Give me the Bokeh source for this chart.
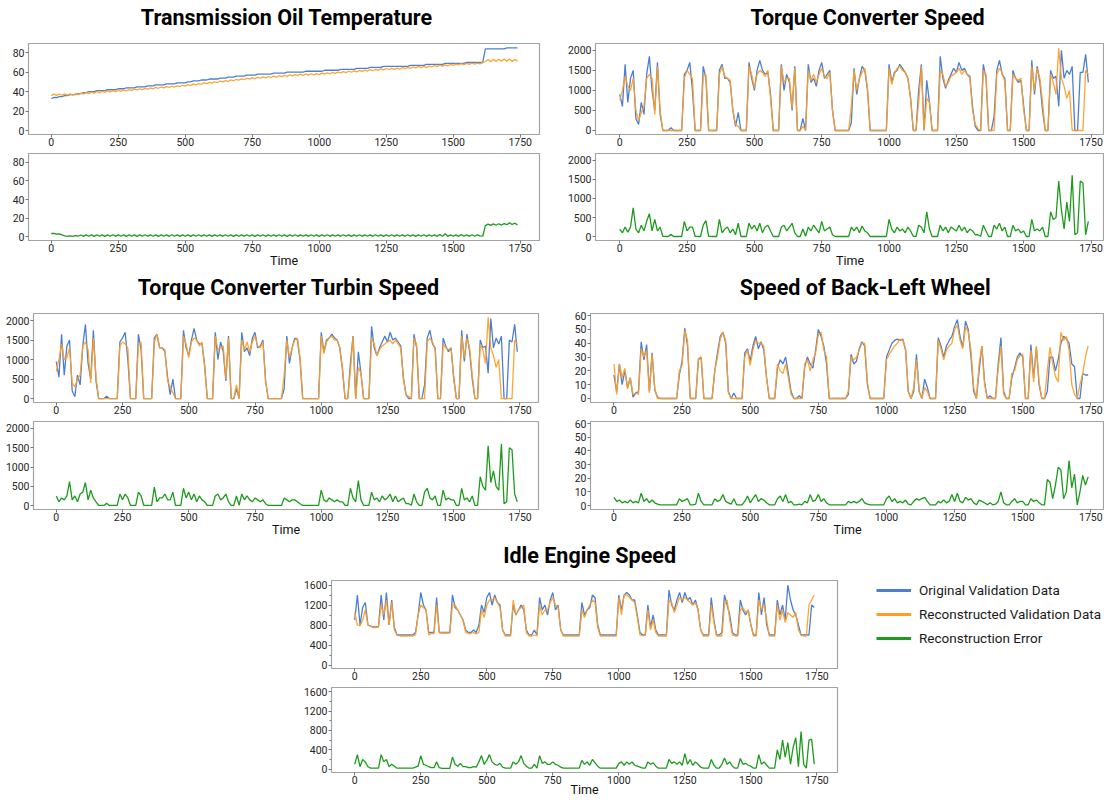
from bokeh.plotting import figure
from bokeh.models import Range1d, FixedTicker, Legend, LegendItem, Spacer
from bokeh.layouts import column, row
from bokeh.embed import file_html
from bokeh.resources import INLINE
from bokeh.core.properties import value

TIME = list(range(0, 1750, 10))
X_TICKS = [0, 250, 500, 750, 1000, 1250, 1500, 1750]

OIL_ORIG = [33, 34, 34, 35, 35, 36, 36, 37, 37, 37,
            38, 38, 39, 39, 40, 40, 40, 41, 41, 41,
            41, 42, 42, 42, 42, 43, 43, 43, 44, 44,
            44, 44, 45, 45, 45, 45, 46, 46, 46, 47,
            47, 47, 47, 48, 48, 48, 48, 49, 49, 49,
            49, 50, 50, 51, 51, 51, 52, 52, 52, 53,
            53, 53, 53, 54, 54, 54, 55, 55, 55, 56,
            56, 56, 56, 57, 57, 57, 57, 58, 58, 58,
            58, 58, 58, 59, 59, 59, 59, 59, 60, 60,
            60, 60, 60, 60, 60, 61, 61, 61, 61, 61,
            61, 61, 62, 62, 62, 62, 62, 62, 63, 63,
            63, 63, 63, 63, 64, 64, 64, 64, 64, 65,
            65, 65, 65, 65, 66, 66, 66, 66, 66, 66,
            66, 66, 66, 66, 67, 67, 67, 67, 67, 67,
            68, 68, 68, 68, 68, 68, 68, 69, 69, 69,
            69, 69, 69, 69, 69, 70, 70, 70, 70, 70,
            70, 70, 84, 84, 84, 84, 84, 84, 84, 84,
            85, 85, 85, 85, 85]
OIL_RECON = [36.0, 37.5, 36.2, 37.6, 36.3, 37.7, 36.4, 37.8, 36.5, 37.8,
             37.0, 38.4, 37.5, 39.0, 38.0, 39.5, 38.5, 40.0, 39.0, 40.2,
             39.3, 40.6, 39.7, 41.0, 40.0, 41.4, 40.4, 41.8, 40.8, 42.2,
             41.3, 42.6, 41.8, 43.0, 42.2, 43.4, 42.6, 43.8, 43.0, 44.4,
             43.5, 44.8, 44.0, 45.2, 44.4, 45.6, 44.8, 46.0, 45.3, 46.6,
             45.8, 47.2, 46.4, 47.8, 47.0, 48.4, 47.6, 49.0, 48.2, 49.6,
             48.8, 50.2, 49.4, 50.8, 50.0, 51.4, 50.6, 52.0, 51.2, 52.6,
             51.8, 53.2, 52.4, 53.8, 53.0, 54.4, 53.4, 54.8, 53.8, 55.2,
             54.2, 55.6, 54.6, 56.0, 55.0, 56.4, 55.4, 56.8, 55.8, 57.2,
             56.2, 57.6, 56.6, 58.0, 56.8, 58.2, 57.0, 58.4, 57.2, 58.6,
             57.6, 59.0, 58.0, 59.4, 58.4, 59.8, 58.8, 60.2, 59.2, 60.6,
             59.6, 61.0, 60.0, 61.4, 60.4, 61.8, 60.8, 62.2, 61.2, 62.6,
             61.6, 63.0, 62.0, 63.4, 62.4, 63.8, 62.8, 64.0, 63.0, 64.2,
             63.2, 64.6, 63.6, 65.0, 64.0, 65.4, 64.4, 65.8, 64.8, 66.0,
             65.0, 66.4, 65.4, 66.8, 65.8, 67.2, 66.2, 67.6, 66.6, 68.0,
             67.0, 68.4, 67.4, 68.8, 67.8, 69.0, 68.0, 69.2, 68.2, 69.4,
             68.6, 70.0, 71.0, 73.0, 70.8, 73.2, 71.0, 73.4, 71.2, 73.5,
             71.2, 73.6, 71.0, 73.2, 71.4]
OIL_ERR = [3.5, 3.6, 2.8, 3.2, 2.0, 1.0, 0.5, 0.9, 0.4, 1.2,
           0.6, 1.9, 0.5, 2.0, 0.6, 2.1, 0.5, 2.0, 0.6, 2.1,
           0.5, 2.0, 0.6, 2.2, 0.5, 2.0, 0.6, 2.1, 0.5, 2.0,
           0.6, 2.1, 0.5, 2.0, 0.6, 2.2, 0.5, 2.0, 0.6, 2.1,
           0.5, 2.0, 0.6, 2.1, 0.5, 2.2, 0.6, 2.0, 0.5, 2.1,
           0.6, 2.0, 0.5, 2.1, 0.6, 2.2, 0.5, 2.0, 0.6, 2.1,
           0.5, 2.0, 0.6, 2.1, 0.5, 2.2, 0.6, 2.0, 0.5, 2.1,
           0.6, 2.0, 0.5, 2.2, 0.6, 2.1, 0.5, 2.0, 0.6, 2.2,
           0.5, 2.1, 0.6, 2.0, 0.5, 2.2, 0.6, 2.1, 0.5, 2.0,
           0.6, 2.2, 0.5, 2.1, 0.6, 2.0, 0.5, 2.2, 0.6, 2.1,
           0.5, 2.0, 0.6, 2.2, 0.5, 2.1, 0.6, 2.0, 0.5, 2.2,
           0.6, 2.1, 0.5, 2.0, 0.6, 2.2, 0.5, 2.1, 0.6, 2.0,
           0.5, 2.2, 0.6, 2.1, 0.5, 2.0, 0.6, 2.2, 0.5, 2.1,
           0.6, 2.0, 0.5, 2.2, 0.6, 2.1, 0.5, 2.0, 0.6, 2.2,
           0.5, 2.1, 0.6, 2.0, 0.5, 2.3, 0.6, 3.2, 0.5, 2.1,
           0.6, 2.1, 0.5, 2.3, 0.6, 2.0, 0.5, 2.2, 0.6, 2.0,
           1.0, 0.6, 12.0, 13.6, 12.2, 13.8, 12.4, 14.0, 12.6, 14.2,
           13.0, 14.9, 13.2, 14.6, 12.8]

TC_ORIG = [900, 600, 1650, 700, 1300, 1500, 300, 150, 700, 400,
           1400, 1850, 1000, 500, 1700, 400, 0, 0, 0, 70,
           0, 0, 0, 0, 1400, 1500, 1700, 1000, 0, 0,
           0, 1600, 1300, 0, 0, 0, 0, 1500, 1650, 1300,
           1300, 1200, 500, 100, 450, 0, 0, 0, 1700, 1300,
           1000, 1500, 1750, 1500, 1400, 1450, 900, 0, 0, 0,
           1650, 1000, 1400, 1200, 500, 1600, 0, 0, 300, 0,
           1650, 1200, 1300, 1100, 1500, 1700, 1300, 1400, 1500, 500,
           0, 0, 0, 0, 0, 0, 200, 1550, 900, 1300,
           1600, 1500, 1000, 0, 0, 0, 0, 0, 0, 0,
           1650, 1200, 1450, 1500, 1650, 1550, 1450, 1300, 800, 0,
           0, 1000, 1650, 0, 1250, 700, 0, 0, 0, 1850,
           1300, 1050, 1250, 1400, 1550, 1450, 1700, 1500, 1550, 1400,
           1350, 600, 100, 0, 0, 1650, 1300, 0, 0, 350,
           1500, 1750, 1400, 1300, 0, 0, 1500, 1300, 1200, 1250,
           600, 0, 0, 1750, 900, 1600, 1200, 500, 0, 0,
           1500, 1300, 1350, 600, 2000, 1300, 1500, 1400, 1600, 0,
           0, 1450, 1450, 1900, 1200]
TC_RECON = [750, 1000, 1350, 1100, 1000, 1300, 500, 250, 450, 600,
            1300, 1400, 1300, 400, 1600, 500, 0, 0, 0, 0,
            0, 0, 0, 0, 1300, 1500, 1400, 1300, 0, 0,
            0, 1350, 1400, 0, 0, 0, 0, 1400, 1600, 1350,
            1300, 1250, 500, 150, 100, 0, 0, 0, 1600, 1400,
            1050, 1400, 1500, 1450, 1350, 1500, 800, 0, 0, 0,
            1600, 1200, 1300, 1300, 550, 1550, 0, 0, 100, 0,
            1500, 1250, 1400, 1200, 1400, 1550, 1350, 1300, 1450, 500,
            0, 0, 0, 0, 0, 0, 600, 1500, 1000, 1300,
            1450, 1550, 1050, 0, 0, 0, 0, 0, 0, 0,
            1550, 1150, 1400, 1550, 1600, 1500, 1450, 1300, 800, 0,
            0, 700, 1600, 0, 800, 700, 0, 0, 0, 1500,
            1400, 1100, 1200, 1350, 1400, 1450, 1550, 1400, 1500, 1400,
            1300, 500, 150, 50, 0, 1500, 1400, 0, 0, 0,
            1400, 1550, 1450, 1200, 0, 0, 1400, 1300, 1250, 1300,
            500, 0, 0, 1600, 1000, 1550, 1300, 700, 0, 0,
            1400, 1200, 900, 2050, 1300, 1100, 800, 1000, 0, 0,
            0, 0, 0, 1500, 1400]
TC_ERR = [200, 100, 250, 120, 250, 750, 200, 100, 300, 150,
          400, 600, 150, 450, 150, 250, 10, 5, 5, 60,
          5, 5, 5, 5, 400, 150, 250, 250, 10, 5,
          5, 300, 420, 10, 5, 5, 5, 450, 100, 200,
          250, 100, 200, 50, 350, 5, 5, 5, 350, 200,
          300, 150, 350, 100, 250, 300, 150, 5, 5, 5,
          250, 300, 150, 250, 350, 100, 5, 5, 200, 10,
          250, 150, 300, 200, 100, 400, 150, 200, 250, 50,
          5, 5, 5, 5, 5, 5, 250, 150, 250, 100,
          280, 150, 100, 5, 5, 5, 5, 5, 5, 5,
          450, 200, 100, 250, 150, 200, 100, 250, 150, 10,
          5, 300, 250, 100, 650, 200, 5, 5, 5, 300,
          150, 250, 100, 250, 200, 150, 300, 150, 250, 100,
          200, 150, 50, 50, 10, 300, 150, 5, 5, 300,
          200, 350, 150, 250, 5, 5, 300, 150, 200, 100,
          150, 5, 5, 450, 150, 200, 150, 250, 5, 5,
          650, 450, 500, 1450, 700, 200, 900, 400, 1600, 50,
          100, 1450, 1400, 50, 400]

TURB_ORIG = [950, 550, 1650, 600, 1350, 1500, 200, 50, 600, 350,
             1350, 1900, 900, 500, 1750, 450, 0, 0, 0, 60,
             0, 0, 0, 0, 1450, 1550, 1700, 1000, 0, 0,
             0, 1650, 1250, 0, 0, 0, 0, 1550, 1650, 1300,
             1300, 1200, 550, 100, 500, 0, 0, 0, 1750, 1300,
             1100, 1500, 1800, 1500, 1400, 1400, 850, 0, 0, 0,
             1700, 1000, 1450, 1200, 450, 1600, 0, 0, 250, 0,
             1700, 1200, 1300, 1100, 1550, 1700, 1300, 1350, 1500, 450,
             0, 0, 0, 0, 0, 0, 250, 1600, 900, 1300,
             1550, 1500, 1000, 0, 0, 0, 0, 0, 0, 0,
             1700, 1200, 1500, 1550, 1650, 1550, 1500, 1300, 750, 0,
             0, 900, 1600, 0, 1200, 650, 0, 0, 0, 1850,
             1300, 1100, 1300, 1450, 1600, 1450, 1700, 1500, 1550, 1450,
             1350, 550, 100, 0, 0, 1650, 1300, 0, 0, 350,
             1550, 1750, 1400, 1300, 0, 0, 1550, 1350, 1200, 1300,
             550, 0, 0, 1750, 950, 1650, 1200, 500, 0, 0,
             1500, 1300, 1350, 650, 2050, 1300, 1550, 1400, 1600, 0,
             0, 1500, 1450, 1900, 1200]
TURB_RECON = [700, 1000, 1400, 1000, 1050, 1300, 400, 300, 500, 600,
              1350, 1450, 1250, 400, 1550, 550, 0, 0, 0, 0,
              0, 0, 0, 0, 1350, 1450, 1400, 1300, 0, 0,
              0, 1400, 1450, 0, 0, 0, 0, 1450, 1650, 1300,
              1300, 1250, 450, 300, 150, 0, 0, 0, 1600, 1400,
              1050, 1450, 1550, 1500, 1350, 1450, 800, 0, 0, 0,
              1600, 1250, 1300, 1350, 500, 1550, 0, 0, 350, 0,
              1500, 1250, 1450, 1200, 1450, 1600, 1350, 1300, 1450, 450,
              0, 0, 0, 0, 0, 0, 600, 1500, 1050, 1300,
              1500, 1550, 1050, 0, 0, 0, 0, 0, 0, 0,
              1600, 1150, 1450, 1550, 1600, 1500, 1500, 1300, 800, 0,
              0, 700, 1600, 0, 800, 650, 0, 0, 0, 1550,
              1400, 1100, 1250, 1350, 1400, 1450, 1500, 1400, 1500, 1400,
              1300, 500, 100, 50, 0, 1550, 1400, 0, 0, 0,
              1450, 1550, 1450, 1250, 0, 0, 1400, 1300, 1250, 1300,
              500, 0, 0, 1600, 1050, 1550, 1300, 600, 0, 0,
              1400, 1250, 900, 2080, 1300, 1100, 800, 1000, 0, 0,
              0, 0, 0, 1500, 1400]
TURB_ERR = [250, 100, 200, 150, 250, 620, 150, 250, 100, 300,
            350, 600, 150, 400, 200, 100, 10, 5, 5, 60,
            5, 5, 5, 5, 300, 150, 300, 200, 10, 5,
            5, 350, 250, 10, 5, 5, 5, 480, 100, 200,
            200, 300, 150, 150, 350, 5, 5, 5, 450, 200,
            350, 150, 300, 100, 250, 150, 100, 5, 5, 5,
            250, 300, 150, 200, 300, 100, 5, 5, 250, 10,
            300, 150, 250, 150, 100, 200, 150, 100, 150, 50,
            5, 5, 5, 5, 5, 5, 200, 150, 100, 150,
            150, 100, 50, 5, 5, 5, 5, 5, 5, 5,
            400, 150, 100, 200, 150, 100, 150, 100, 100, 10,
            5, 450, 200, 100, 650, 150, 5, 5, 5, 350,
            150, 200, 100, 250, 150, 200, 300, 100, 250, 100,
            150, 200, 50, 50, 10, 300, 100, 5, 5, 350,
            450, 200, 150, 250, 5, 5, 400, 150, 200, 150,
            150, 5, 5, 450, 150, 200, 100, 250, 5, 5,
            750, 500, 400, 1550, 600, 900, 500, 400, 1600, 50,
            100, 1500, 1450, 300, 100]

WHEEL_ORIG = [17, 5, 25, 10, 20, 8, 15, 1, 4, 5,
              41, 28, 39, 5, 33, 6, 1, 0, 0, 0,
              0, 0, 0, 0, 17, 27, 51, 38, 0, 0,
              0, 28, 30, 0, 0, 0, 0, 20, 33, 45,
              48, 40, 5, 0, 4, 0, 0, 0, 33, 36,
              27, 38, 45, 36, 41, 35, 15, 0, 0, 0,
              22, 28, 25, 30, 18, 5, 0, 0, 2, 0,
              23, 30, 25, 22, 35, 50, 45, 38, 25, 0,
              0, 0, 0, 0, 0, 0, 3, 32, 25, 27,
              36, 41, 38, 10, 0, 0, 0, 0, 0, 0,
              30, 35, 40, 42, 43, 42, 43, 35, 5, 0,
              5, 32, 5, 0, 14, 8, 0, 0, 0, 44,
              38, 30, 38, 42, 45, 52, 57, 45, 37, 56,
              50, 30, 5, 0, 20, 38, 12, 0, 2, 0,
              0, 25, 44, 5, 0, 0, 15, 22, 30, 33,
              30, 0, 0, 39, 15, 37, 10, 0, 0, 5,
              30, 30, 20, 28, 40, 45, 43, 40, 25, 23,
              0, 0, 18, 17, 17]
WHEEL_RECON = [25, 3, 25, 15, 22, 7, 15, 3, 4, 3,
               36, 30, 35, 4, 32, 7, 0, 0, 0, 0,
               0, 0, 0, 0, 20, 24, 49, 42, 0, 0,
               0, 29, 30, 0, 0, 0, 0, 20, 30, 43,
               48, 42, 4, 0, 0, 0, 0, 0, 30, 35,
               24, 35, 42, 40, 40, 38, 15, 0, 0, 0,
               25, 20, 18, 25, 15, 3, 0, 0, 0, 0,
               25, 28, 20, 28, 33, 46, 48, 35, 30, 0,
               0, 0, 0, 0, 0, 0, 5, 30, 28, 30,
               35, 40, 40, 12, 0, 0, 0, 0, 0, 0,
               28, 32, 35, 38, 40, 43, 42, 36, 5, 0,
               8, 28, 5, 0, 8, 5, 0, 0, 0, 42,
               36, 28, 35, 38, 40, 50, 53, 42, 36, 52,
               48, 35, 8, 0, 25, 38, 10, 0, 0, 0,
               0, 22, 38, 3, 0, 0, 18, 20, 28, 31,
               32, 0, 0, 35, 12, 38, 12, 0, 0, 20,
               37, 25, 16, 12, 48, 42, 45, 35, 10, 3,
               0, 10, 18, 30, 38]
WHEEL_ERR = [6, 3, 4, 2, 3, 2, 4, 2, 3, 2,
             9, 3, 5, 2, 4, 2, 1, 0.5, 0.5, 0.5,
             0.5, 0.5, 0.5, 0.5, 5, 3, 4, 5, 0.5, 0.5,
             1, 9, 3, 0.5, 0.5, 0.5, 0.5, 5, 3, 4,
             8, 3, 2, 1, 5, 0.5, 0.5, 0.5, 3, 7,
             2, 5, 8, 3, 5, 4, 2, 0.5, 0.5, 0.5,
             5, 7, 3, 8, 2, 3, 0.5, 0.5, 1, 0.5,
             3, 2, 8, 3, 4, 8, 3, 5, 2, 0.5,
             0.5, 0.5, 0.5, 0.5, 0.5, 0.5, 3, 2, 3, 2,
             3, 5, 2, 1, 0.5, 0.5, 0.5, 0.5, 0.5, 0.5,
             5, 7, 3, 5, 2, 3, 2, 4, 1, 0.5,
             3, 5, 4, 5, 6, 3, 0.5, 0.5, 0.5, 3,
             2, 4, 2, 3, 8, 3, 9, 3, 2, 6,
             4, 5, 2, 0.5, 4, 3, 2, 0.5, 2, 0.5,
             1, 3, 10, 2, 0.5, 0.5, 3, 5, 2, 3,
             3, 0.5, 0.5, 5, 3, 4, 2, 0.5, 0.5, 19,
             17, 5, 15, 28, 26, 5, 10, 33, 13, 23,
             0.5, 10, 22, 15, 21]

IDLE_ORIG = [900, 1400, 800, 1150, 1250, 800, 780, 760, 760, 770,
             1400, 900, 1450, 800, 1300, 750, 600, 600, 600, 600,
             600, 600, 600, 650, 1000, 1450, 1200, 1100, 650, 650,
             650, 1350, 650, 650, 650, 650, 650, 1400, 1150, 1100,
             1000, 900, 700, 650, 650, 700, 650, 800, 1200, 1050,
             1350, 1450, 1200, 1400, 1250, 1200, 700, 600, 600, 600,
             1200, 1000, 1100, 1200, 1100, 700, 600, 600, 700, 600,
             1350, 1100, 1200, 1000, 1300, 1450, 1100, 1200, 700, 600,
             600, 600, 600, 600, 600, 600, 1250, 1000, 1100, 1150,
             1400, 1350, 800, 600, 600, 600, 600, 600, 600, 600,
             1400, 1100, 1400, 1450, 1400, 1300, 1300, 1000, 650, 600,
             600, 1200, 750, 1000, 700, 600, 600, 600, 600, 1500,
             1200, 1100, 1300, 1450, 1250, 1450, 1300, 1350, 1200, 1300,
             1100, 700, 600, 600, 600, 1350, 900, 600, 600, 650,
             1400, 1200, 1000, 650, 600, 600, 1300, 1100, 1000, 1100,
             800, 600, 600, 1450, 1000, 1350, 800, 600, 600, 600,
             1300, 1000, 1200, 900, 1600, 1300, 1100, 1000, 800, 600,
             600, 600, 600, 1200, 1150]
IDLE_RECON = [1050, 800, 780, 900, 1100, 800, 770, 750, 750, 760,
              1200, 1000, 1300, 800, 1250, 700, 600, 580, 580, 580,
              580, 580, 580, 600, 1000, 1200, 1150, 1100, 600, 630,
              630, 1200, 650, 640, 640, 640, 640, 1200, 1200, 1100,
              1000, 900, 650, 630, 630, 650, 620, 650, 1100, 950,
              1200, 1300, 1300, 1350, 1250, 1150, 700, 580, 580, 580,
              1300, 1000, 1100, 1150, 1200, 650, 580, 580, 600, 580,
              1200, 1000, 1100, 1100, 1250, 1350, 1200, 1150, 700, 580,
              580, 580, 580, 580, 580, 580, 1100, 950, 1100, 1200,
              1300, 1250, 750, 580, 580, 580, 580, 580, 580, 580,
              1350, 1000, 1400, 1400, 1350, 1300, 1250, 950, 600, 580,
              600, 1100, 700, 900, 650, 580, 580, 580, 580, 1300,
              1250, 1050, 1200, 1350, 1300, 1350, 1300, 1250, 1200, 1250,
              1100, 700, 580, 580, 580, 1200, 850, 580, 580, 580,
              1200, 1300, 900, 600, 580, 580, 1100, 1150, 1050, 1100,
              800, 580, 580, 1300, 1100, 1200, 900, 580, 580, 580,
              1200, 900, 1100, 850, 1050, 1000, 950, 1050, 700, 600,
              580, 580, 1200, 1300, 1400]
IDLE_ERR = [100, 300, 50, 200, 150, 50, 20, 20, 20, 20,
            300, 150, 200, 50, 100, 60, 20, 20, 20, 20,
            20, 20, 20, 40, 60, 280, 100, 80, 50, 30,
            30, 150, 30, 15, 15, 15, 15, 250, 100, 60,
            120, 50, 50, 30, 30, 50, 40, 150, 280, 100,
            180, 300, 150, 100, 80, 120, 40, 20, 20, 20,
            150, 100, 150, 280, 120, 60, 20, 20, 100, 20,
            280, 120, 150, 100, 100, 150, 100, 80, 40, 20,
            20, 20, 20, 20, 20, 20, 180, 100, 150, 80,
            200, 130, 60, 20, 20, 20, 20, 20, 20, 20,
            120, 150, 80, 150, 100, 150, 80, 60, 40, 20,
            20, 150, 100, 130, 60, 20, 20, 20, 20, 200,
            120, 150, 100, 150, 80, 320, 100, 200, 80, 150,
            100, 40, 20, 20, 20, 200, 80, 20, 20, 100,
            230, 100, 150, 60, 20, 20, 220, 100, 120, 80,
            60, 20, 20, 300, 100, 150, 80, 20, 20, 20,
            400, 200, 600, 250, 550, 100, 450, 650, 50, 780,
            100, 20, 600, 620, 100]

TITLES = ["Transmission Oil Temperature", "Torque Converter Speed",
          "Torque Converter Turbin Speed", "Speed of Back-Left Wheel", "Idle Engine Speed"]
LEGEND_LABELS = ["Original Validation Data", "Reconstructed Validation Data", "Reconstruction Error"]
Y_RANGES = [(-4, 89.5), (-100, 2170), (-100, 2180), (-2.9, 61.5), (-70, 1690)]
Y_TICKS = [[0, 20, 40, 60, 80], [0, 500, 1000, 1500, 2000], [0, 500, 1000, 1500, 2000],
           [0, 10, 20, 30, 40, 50, 60], [0, 400, 800, 1200, 1600]]
Y_MINOR_5 = [200, 600, 1000, 1400]

# ---------------- style ----------------
FONT = "Roboto"
BLUE = "#4C7FD1"
ORANGE = "#FF9D25"
GREEN = "#1E9B1E"
SPINE = "#a3a3a3"
TICKC = "#777777"
LABELC = "#262626"


def blank_fig(w, h):
    p = figure(width=w, height=h, x_range=Range1d(0, w), y_range=Range1d(h, 0),
               x_axis_location=None, y_axis_location=None, toolbar_location=None,
               output_backend="svg", min_border_left=0, min_border_right=0,
               min_border_top=0, min_border_bottom=0)
    p.outline_line_color = None
    p.grid.visible = False
    return p


def title_fig(text, w, h, cx, cy):
    p = blank_fig(w, h)
    p.text(x=[cx], y=[cy], text=[text], text_font=value(FONT), text_font_style="bold",
           text_font_size="21.5px", text_align="center", text_baseline="middle",
           text_color="#000000")
    return p


def data_fig(w, h, fl, fr, bt, bb, xr, yr, yt, minor=None, xlabel=None, lab_off=-2):
    p = figure(width=w, height=h, x_range=Range1d(*xr), y_range=Range1d(*yr),
               toolbar_location=None, output_backend="svg",
               min_border_left=fl, min_border_right=w - fr,
               min_border_top=bt, min_border_bottom=bb)
    p.outline_line_color = SPINE
    p.outline_line_width = 1.2
    p.grid.visible = False
    p.xaxis.ticker = FixedTicker(ticks=X_TICKS)
    p.yaxis.ticker = FixedTicker(ticks=yt, minor_ticks=minor or [])
    for ax in p.axis:
        ax.axis_line_color = None
        ax.major_tick_in = 0
        ax.major_tick_out = 3
        ax.major_tick_line_color = TICKC
        ax.minor_tick_in = 0
        ax.minor_tick_out = 2
        ax.minor_tick_line_color = None
        ax.major_label_text_font = FONT
        ax.major_label_text_font_size = "10.5px"
        ax.major_label_text_color = LABELC
    p.xaxis.major_label_standoff = 0
    p.yaxis.major_label_standoff = 1
    if minor:
        p.yaxis.minor_tick_line_color = TICKC
    if xlabel:
        p.xaxis.axis_label = xlabel
        p.xaxis.axis_label_text_font = FONT
        p.xaxis.axis_label_text_font_size = "12.5px"
        p.xaxis.axis_label_text_font_style = "normal"
        p.xaxis.axis_label_text_color = "#111111"
        p.xaxis.axis_label_standoff = lab_off
    return p


def panel(i, orig, recon, err, col_w, fl, fr, xr, cx, title_h, cy,
          top_h, top_bb, bot_h, bot_bb, lab_off, minor=None):
    t = title_fig(TITLES[i], col_w, title_h, cx, cy)
    top = data_fig(col_w, 4 + top_h + top_bb, fl, fr, 4, top_bb, xr, Y_RANGES[i], Y_TICKS[i], minor)
    n = min(len(TIME), len(orig))
    top.line(TIME[:n], orig[:n], line_color=BLUE, line_width=1.3)
    n = min(len(TIME), len(recon))
    top.line(TIME[:n], recon[:n], line_color=ORANGE, line_width=1.3, line_alpha=0.92)
    bot = data_fig(col_w, 4 + bot_h + bot_bb, fl, fr, 4, bot_bb, xr, Y_RANGES[i], Y_TICKS[i],
                   minor, "Time", lab_off)
    n = min(len(TIME), len(err))
    bot.line(TIME[:n], err[:n], line_color=GREEN, line_width=1.3)
    return column(t, top, bot)


# the right-hand panels run up to the page edge, as in the (cropped) reference
p1 = panel(0, OIL_ORIG, OIL_RECON, OIL_ERR, 552, 28, 539, (-85, 1822), 279, 39, 17, 91, 15, 89, 28, -2)
p2 = panel(1, TC_ORIG, TC_RECON, TC_ERR, 552, 43, 552, (-90, 1800), 295, 39, 17, 91, 15, 89, 28, -2)
p3 = panel(2, TURB_ORIG, TURB_RECON, TURB_ERR, 552, 33, 538, (-86, 1820), 279, 39, 17, 89, 15, 88, 31, -2)
p4 = panel(3, WHEEL_ORIG, WHEEL_RECON, WHEEL_ERR, 552, 38, 552, (-86, 1800), 295, 39, 17, 89, 15, 88, 31, -2)
p5 = panel(4, IDLE_ORIG, IDLE_RECON, IDLE_ERR, 545, 31, 537, (-88, 1828), 278, 36, 15, 88, 15, 88, 24, -5,
           Y_MINOR_5)

# legend (swatches only, the renderers hold no visible data)
leg_fig = blank_fig(228, 90)
nan = float("nan")
r1 = leg_fig.line(x=[nan], y=[nan], line_color=BLUE, line_width=3)
r2 = leg_fig.line(x=[nan], y=[nan], line_color=ORANGE, line_width=3)
r3 = leg_fig.line(x=[nan], y=[nan], line_color=GREEN, line_width=3)
legend = Legend(items=[LegendItem(label=LEGEND_LABELS[0], renderers=[r1]),
                       LegendItem(label=LEGEND_LABELS[1], renderers=[r2]),
                       LegendItem(label=LEGEND_LABELS[2], renderers=[r3])],
                location="top_left", margin=0, padding=0, spacing=4,
                glyph_width=35, glyph_height=20, label_height=20, label_standoff=8,
                label_text_font=FONT, label_text_font_size="13.5px", label_text_color="#1a1a1a",
                border_line_color=None, background_fill_alpha=0)
leg_fig.add_layout(legend)

row1 = row(p1, p2)
row2 = row(p3, p4)
row3 = row(Spacer(width=300, height=259), p5, Spacer(width=31, height=259),
           column(Spacer(width=228, height=40), leg_fig))
page = column(row1, row2, row3)

open("out.html", "w").write(file_html(page, INLINE))
